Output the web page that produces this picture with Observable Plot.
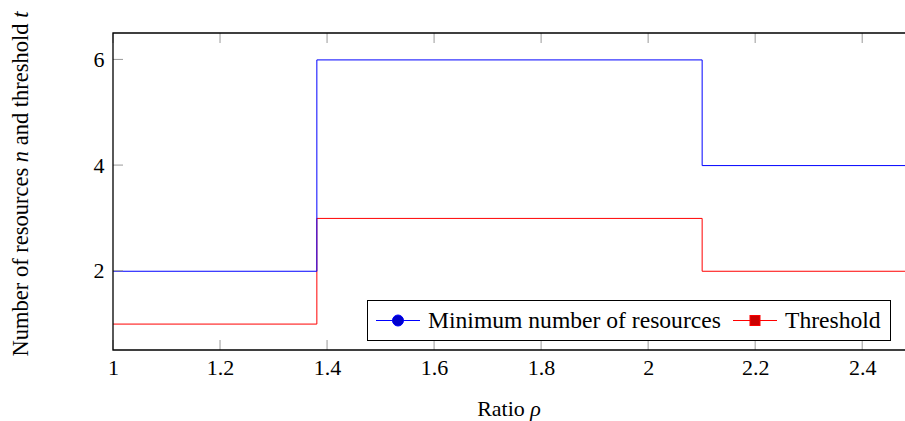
<!DOCTYPE html>
<html>
<head>
<meta charset="utf-8">
<script src="https://cdn.jsdelivr.net/npm/d3@7"></script>
<script src="https://cdn.jsdelivr.net/npm/@observablehq/plot@0.6"></script>
<style>
  html, body { margin: 0; padding: 0; background: #fff; }
  svg { font-family: "Liberation Serif", "DejaVu Serif", serif; }
</style>
</head>
<body>
<div id="chart"></div>
<script>
// Data (step functions: value holds from each break until the next)
const ratioBreaks = [1, 1.38, 2.1, 2.48];
const minResources = [2, 6, 4, 4];
const thresholdVals = [1, 3, 2, 2];
const xTicks = [1, 1.2, 1.4, 1.6, 1.8, 2, 2.2, 2.4];
const yTicks = [2, 4, 6];
const seriesNames = ["Minimum number of resources", "Threshold"];
const seriesColors = ["#0000ff", "#ff0000"];

const rowsN = ratioBreaks.map((x, i) => ({x, y: minResources[i]}));
const rowsT = ratioBreaks.map((x, i) => ({x, y: thresholdVals[i]}));

const W = 905, H = 421;
const mL = 113, mR = 0, mT = 33, mB = 71;
const tickLen = 10;

const chart = Plot.plot({
  width: W, height: H,
  marginLeft: mL, marginRight: mR, marginTop: mT, marginBottom: mB,
  style: {fontFamily: "Liberation Serif, serif", fontSize: "22px", color: "#000", background: "#fff"},
  x: {domain: [1, 2.48]},
  y: {domain: [0.5, 6.5]},
  marks: [
    Plot.axisX({ticks: xTicks, tickSize: 0, tickPadding: 9, tickFormat: d => String(d), fontSize: 22, label: null}),
    Plot.axisY({ticks: yTicks, tickSize: 0, tickPadding: 9, tickFormat: d => String(d), fontSize: 22, label: null}),
    Plot.line(rowsT, {x: "x", y: "y", curve: "step-after", stroke: seriesColors[1], strokeWidth: 1}),
    Plot.line(rowsN, {x: "x", y: "y", curve: "step-after", stroke: seriesColors[0], strokeWidth: 1})
  ]
});

const svg = d3.select(chart);
const sx = chart.scale("x"), sy = chart.scale("y");
const gt = svg.append("g").attr("stroke", "#999").attr("stroke-width", 1);
xTicks.forEach(t => {
  const px = sx.apply(t);
  gt.append("line").attr("x1", px).attr("x2", px).attr("y1", H - mB).attr("y2", H - mB - tickLen);
  gt.append("line").attr("x1", px).attr("x2", px).attr("y1", mT).attr("y2", mT + tickLen);
});
yTicks.forEach(t => {
  const py = sy.apply(t);
  gt.append("line").attr("x1", mL).attr("x2", mL + tickLen).attr("y1", py).attr("y2", py);
});
// frame (left, top, bottom)
const gf = svg.append("g").attr("stroke", "#000").attr("stroke-width", 1.3).attr("fill", "none");
gf.append("path").attr("d", `M${W},${mT}H${mL}V${H - mB}H${W}`);

// Axis labels
const xl = svg.append("text").attr("x", mL + (W - mL) / 2).attr("y", 416)
  .attr("text-anchor", "middle").attr("font-size", 22).attr("fill", "#000");
xl.append("tspan").text("Ratio ");
xl.append("tspan").attr("font-style", "italic").text("ρ");

const yl = svg.append("text").attr("transform", `translate(28,${184}) rotate(-90)`)
  .attr("text-anchor", "middle").attr("font-size", 22.5).attr("fill", "#000");
yl.append("tspan").text("Number of resources ");
yl.append("tspan").attr("font-style", "italic").text("n");
yl.append("tspan").text(" and threshold ");
yl.append("tspan").attr("font-style", "italic").text("t");

// Legend
const lg = svg.append("g");
lg.append("rect").attr("x", 367.5).attr("y", 300.5).attr("width", 523).attr("height", 40)
  .attr("fill", "#fff").attr("stroke", "#000").attr("stroke-width", 1);
const items = [
  {x0: 376, name: seriesNames[0], color: seriesColors[0], marker: "circle", tx: 428},
  {x0: 733, name: seriesNames[1], color: seriesColors[1], marker: "square", tx: 785}
];
items.forEach(it => {
  const cy = 320.5;
  lg.append("line").attr("x1", it.x0).attr("x2", it.x0 + 44).attr("y1", cy).attr("y2", cy)
    .attr("stroke", it.color).attr("stroke-width", 1);
  if (it.marker === "circle") {
    lg.append("circle").attr("cx", it.x0 + 22).attr("cy", cy).attr("r", 5.5)
      .attr("fill", "#0000cc").attr("stroke", "#0000ff");
  } else {
    lg.append("rect").attr("x", it.x0 + 17).attr("y", cy - 5).attr("width", 10).attr("height", 10)
      .attr("fill", "#cc0000").attr("stroke", "#ff0000");
  }
  lg.append("text").attr("x", it.tx).attr("y", cy + 7).attr("text-anchor", "start")
    .attr("font-size", 23.6).attr("fill", "#000").text(it.name);
});

document.getElementById("chart").appendChild(chart);
</script>
</body>
</html>
